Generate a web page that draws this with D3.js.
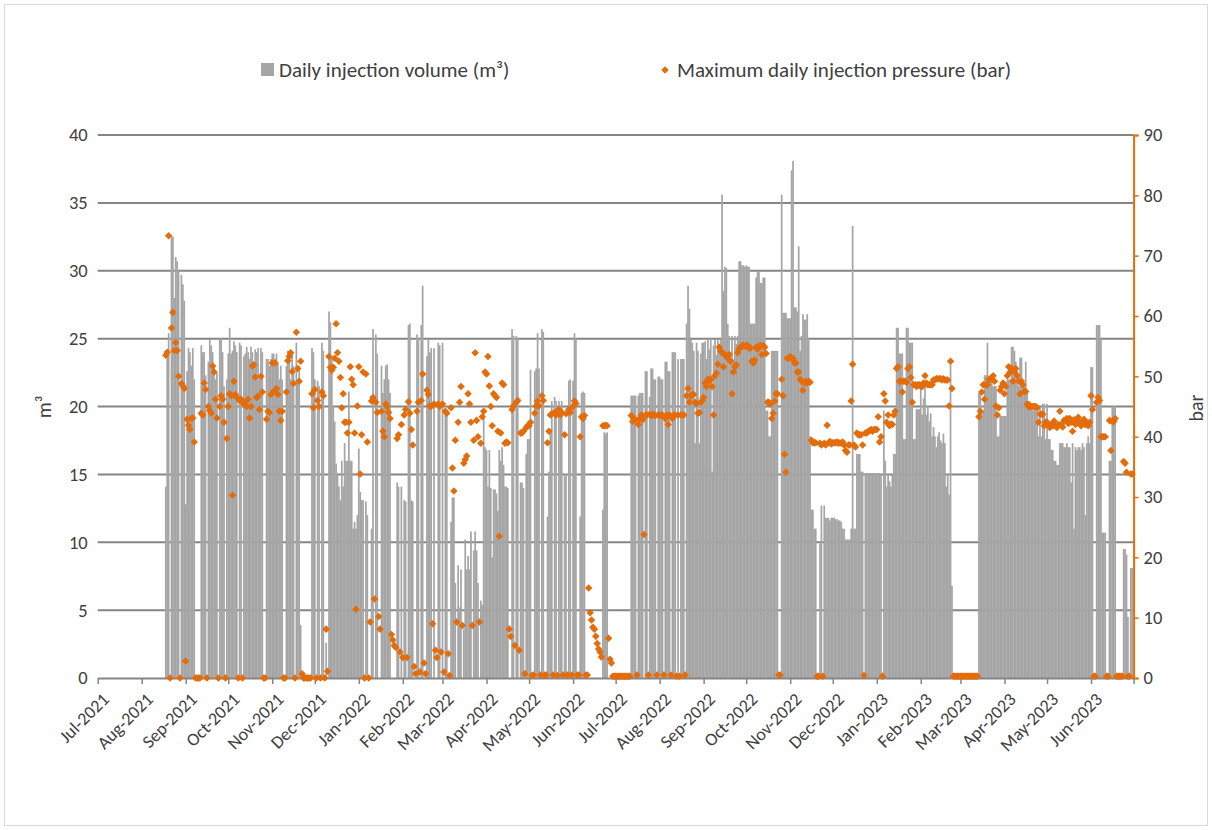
<!DOCTYPE html>
<html><head><meta charset="utf-8">
<script src="https://cdn.jsdelivr.net/npm/d3@7"></script>
<style>
body{margin:0;background:#fff}
text{font-family:Carlito,Calibri,Lato,"Liberation Sans",sans-serif;fill:#404040}
</style>
</head><body>
<svg id="chart" width="1212" height="830"></svg>
<script>
// ---- daily injection volume (m³) and maximum daily injection pressure (bar), one array per month ----
const v2108=[14.1,24.0,25.4,0,32.6,32.5,28.0,31.0,30.7,30.0,0,29.7,29.0,27.8];
const p2108=[53.5,54.0,73.3,0,58.0,60.6,54.3,55.6,54.3,50.0,0,48.8,48.4,48.0];
const v2109=[12.8,22.6,24.3,24.0,23.0,24.3,22.0,0,0,0,0,24.5,24.0,24.0,22.3,0,23.3,24.9,24.5,24.0,23.0,22.0,22.5,0,25.0,25.0,24.0,21.5,0,22.0];
const p2109=[2.8,42.9,41.9,41.2,43.0,43.1,39.1,0,0,0,0,43.9,43.6,48.9,47.8,0,45.0,44.3,43.9,51.7,50.7,46.2,43.1,0,45.0,46.8,46.2,42.4,0,39.7];
const v2110=[23.9,25.8,23.9,24.1,24.8,24.5,24.0,0,24.7,24.5,0,23.7,23.9,24.4,24.0,23.5,24.4,24.0,23.0,24.2,24.0,24.3,22.0,24.3,24.0,0,0,23.5,23.5,23.0,23.5];
const p2110=[45.0,47.1,46.8,30.3,49.2,47.0,46.5,0,46.0,46.2,0,45.4,45.8,45.0,46.2,43.1,45.0,51.7,51.9,49.9,46.5,46.7,44.5,50.0,47.4,0,0,42.9,44.2,44.0,47.0];
const v2111=[23.9,23.9,23.5,23.9,23.2,22.0,23.0,22.0,0,0,23.0,24.1,23.5,22.0,24.0,23.0,0,24.7,22.0,23.0,3.9,0,0,0,0,0,0,0,24.3,24.0];
const p2111=[52.2,47.5,52.2,48.0,47.0,44.2,42.7,44.2,0,0,47.4,52.6,53.3,53.9,50.8,48.8,0,57.3,51.3,49.2,52.5,0.7,0,0,0,0,0,0,47.1,44.8];
const v2112=[22.0,0,21.9,21.5,0,24.7,24.1,0,2.6,0,27.0,26.2,23.6,20.0,18.9,15.8,14.9,14.1,13.1,16.0,14.1,17.3,16.0,16.0,21.1,16.0,16.0,11.0,11.5,11.0,12.0];
const p2112=[47.8,0,46.0,45.0,0,47.4,46.8,0,8.1,1.1,53.3,51.5,51.0,51.5,53.0,58.7,53.9,52.5,49.8,44.8,47.1,42.4,42.4,40.6,42.4,51.6,49.5,48.6,40.6,11.4,45.1];
const v2201=[16.9,13.7,13.1,13.1,0,13.0,12.0,0,0,11.0,25.7,0,25.3,23.9,0,0,23.0,21.0,22.0,23.0,23.1,22.0,21.0,0,0,0,0,14.4,14.1,0,14.1];
const p2201=[51.6,33.8,40.3,50.7,0,50.4,39.1,0,9.3,45.9,46.5,13.1,45.7,44.0,10.2,8.1,44.2,40.9,40.0,45.4,45.0,44.0,43.0,7.2,6.3,5.4,5.1,39.7,40.3,4.3,42.0];
const v2202=[0,13.1,13.0,0,26.0,26.1,13.1,13.0,0,0,25.3,25.0,0,26.0,28.9,0,0,23.7,24.9,24.0,24.3,0,24.3,0,0,24.7,24.5,0];
const p2202=[3.4,43.6,44.5,3.4,45.8,43.9,41.2,38.6,1.9,0.7,44.2,45.7,1.0,46.0,50.4,2.5,0.7,47.7,47.0,45.1,45.0,9.0,45.4,4.6,3.4,45.4,45.0,4.3];
const v2203=[24.7,0,19.7,19.7,0,0,11.5,13.3,13.3,7.0,0,8.3,5.2,8.0,0,3.6,10.2,8.0,9.0,8.0,10.8,0,9.4,10.8,9.4,7.0,0,5.7,5.4,19.4,17.0];
const p2203=[45.4,1.0,44.2,43.9,4.0,0.4,44.8,34.8,31.0,39.4,9.3,42.4,45.7,48.3,8.7,35.6,36.2,36.8,47.1,45.4,42.4,8.7,39.4,53.9,42.7,40.0,9.3,38.9,43.3,44.2,50.7];
const v2204=[16.8,14.1,16.8,14.0,8.9,13.9,13.9,13.6,12.3,16.8,16.0,17.0,15.7,14.1,14.1,14.0,0,0,25.7,25.2,0,25.2,25.0,0,14.4,14.4,14.0,0,16.5,17.6];
const p2204=[50.4,53.3,48.4,45.0,41.8,47.1,46.8,46.5,40.9,23.5,40.6,48.9,48.6,38.9,39.1,39.0,8.1,6.9,44.5,45.1,5.4,45.7,46.0,4.6,40.6,40.6,40.9,0.7,41.5,41.8];
const v2205=[17.6,22.7,0,0,22.6,22.8,25.4,22.8,0,25.7,25.5,0,0,11.9,15.2,18.2,20.4,0,20.7,20.4,0,20.4,20.0,20.4,0,14.9,15.0,0,21.9,22.0,0];
const p2205=[41.8,42.4,0.4,0.5,43.9,45.1,45.9,45.1,0.5,46.8,46.0,0.5,0.5,39.0,40.9,43.6,43.8,0.5,44.0,43.6,0.4,44.5,43.6,44.0,0.5,40.3,43.8,0.5,44.5,44.0,0.5];
const v2206=[21.9,25.4,25.0,0,0,11.9,21.0,21.1,21.0,0,0,0,0,0,0,0,0,0,0,0,0,12.4,18.1,18.0,18.1,0,0,0,0,0];
const p2206=[45.0,45.9,45.5,0.5,0.5,40.0,43.3,43.0,43.5,0.5,0.5,14.9,10.8,9.6,8.4,8.1,6.9,5.7,4.8,4.3,3.5,41.8,41.8,41.9,41.8,6.6,3.1,2.5,0.3,0.3];
const v2207=[0,0,0,0,0,0,0,0,0,0,0,20.8,20.8,20.8,20.8,0,20.8,21.0,21.0,21.0,0,22.6,22.6,0,20.7,22.8,22.8,22.0,22.0,0,22.2];
const p2207=[0.3,0.3,0.3,0.3,0.3,0.3,0.3,0.3,0.3,0.3,0.3,43.5,42.5,43.0,42.8,0.5,42.0,43.0,43.6,42.8,23.8,43.6,43.6,0.5,43.7,43.5,43.7,43.6,43.5,0.5,43.6];
const v2208=[22.2,22.0,22.0,0,23.3,23.3,22.6,22.6,0,24.0,24.0,24.0,0,23.5,0,23.5,23.5,23.5,0,26.1,28.9,27.2,24.9,24.7,24.1,17.3,24.7,24.1,17.3,23.9,24.7];
const p2208=[43.6,43.5,43.6,0.5,43.0,43.6,42.0,43.6,0.5,43.0,43.6,43.6,0.3,43.6,0.3,43.6,43.6,43.6,0.5,46.8,48.0,45.7,46.8,47.0,47.0,45.7,45.5,43.9,44.0,45.7,46.0];
const v2209=[24.7,24.8,23.5,25.0,24.2,25.0,15.2,24.5,24.9,23.8,24.9,24.2,24.9,35.6,28.5,30.3,30.2,26.1,25.2,24.0,25.2,23.5,25.2,24.6,25.2,30.7,30.7,30.4,30.4,30.3];
const p2209=[46.5,48.9,48.3,49.5,49.2,49.5,48.3,43.6,50.1,50.5,52.0,54.8,54.2,53.9,51.6,53.6,53.3,53.0,53.6,52.5,47.1,50.7,51.6,51.9,53.9,54.5,54.8,55.1,55.1,55.0];
const v2210=[30.4,30.3,30.3,26.1,26.1,26.1,26.1,29.5,29.9,29.9,29.1,29.1,29.5,29.5,19.7,19.7,17.8,17.8,24.1,24.1,24.1,24.1,24.1,0,0,35.6,26.9,26.9,26.9,26.5,26.5];
const p2210=[55.1,55.1,54.7,54.7,52.5,52.2,52.7,54.8,54.5,55.0,55.1,53.6,55.1,54.8,53.8,45.7,45.7,45.4,43.0,43.9,45.9,47.1,47.1,0.5,0.5,49.5,46.8,37.1,34.1,53.0,53.0];
const v2211=[26.5,37.4,38.1,27.3,27.3,27.0,31.8,24.1,25.2,26.8,26.4,26.4,26.8,25.0,17.8,12.4,12.4,11.0,11.0,0,0,9.9,12.7,0,12.7,11.8,11.8,11.8,11.6,11.8];
const p2211=[53.3,53.0,53.0,52.2,52.2,50.7,50.7,49.5,49.2,47.7,48.9,49.2,48.9,49.2,49.0,39.4,39.0,39.0,39.0,0.3,0.3,38.9,38.6,0.3,38.9,38.6,41.9,39.0,39.2,38.8];
const v2212=[11.8,11.8,11.7,11.7,11.6,11.6,11.5,11.0,11.0,10.2,10.2,10.2,10.2,11.0,33.3,11.0,11.0,16.5,16.5,16.5,15.2,15.2,0,15.1,15.1,15.1,15.1,15.1,15.1,15.1,15.1];
const p2212=[39.0,39.0,39.0,39.1,38.9,39.0,38.9,39.1,38.6,37.7,37.4,38.6,38.6,45.9,52.0,38.6,38.3,40.6,40.3,40.3,40.3,38.6,0.4,40.6,40.6,40.9,41.0,41.2,40.9,41.2,41.2];
const v2301=[15.1,15.1,15.1,15.0,0,19.7,16.0,14.1,15.0,14.5,14.1,15.0,16.5,16.5,25.8,25.8,23.9,23.9,23.9,17.6,17.6,25.8,25.8,24.7,24.7,24.7,17.6,17.6,19.8,19.8,19.8];
const p2301=[41.2,43.3,39.1,40.0,0.3,47.1,45.9,42.4,43.6,41.8,42.1,42.0,43.6,44.2,51.3,51.6,49.2,49.2,47.4,49.2,49.2,49.0,51.3,51.6,49.8,45.7,48.6,48.6,48.3,48.6,48.6];
const v2302=[21.5,19.4,20.6,21.8,19.4,20.0,18.9,19.5,17.8,18.5,17.8,17.0,17.8,18.1,17.5,17.3,18.0,17.3,14.1,15.0,13.5,23.1,6.8,0,0,0,0,0];
const p2302=[48.3,48.3,48.9,50.1,48.9,48.6,48.6,48.6,48.6,49.4,49.4,49.6,49.6,49.6,49.6,49.4,49.6,49.4,49.4,49.4,45.1,52.5,48.0,0.3,0.3,0.3,0.3,0.3];
const v2303=[0,0,0,0,0,0,0,0,0,0,0,0,0,21.0,21.0,19.7,19.7,22.3,22.3,24.7,22.2,22.2,22.2,21.5,21.5,21.5,17.8,17.8,19.3,19.3,19.3];
const p2303=[0.3,0.3,0.3,0.3,0.3,0.3,0.3,0.3,0.3,0.3,0.3,0.3,0.3,43.3,44.2,47.4,48.6,46.2,48.6,48.6,49.5,49.6,49.6,50.1,49.2,45.1,43.6,44.8,47.7,48.3,48.9];
const v2304=[19.3,19.3,22.0,22.0,22.0,24.4,24.4,24.1,23.3,22.6,21.5,23.6,23.6,21.5,21.5,23.3,21.0,20.4,20.4,20.2,19.7,20.2,19.7,19.9,17.8,19.9,17.8,20.2,20.2,17.6];
const p2304=[47.1,48.3,50.1,51.6,50.7,51.3,49.2,50.7,51.3,50.1,49.2,47.1,49.2,48.6,47.5,47.5,45.4,45.0,45.0,45.0,45.0,45.0,45.0,44.8,42.4,43.7,43.7,43.7,41.8,42.4];
const v2305=[20.2,17.6,17.6,16.8,16.8,16.0,16.0,15.7,15.7,17.3,17.3,17.3,17.0,17.0,17.3,17.0,17.0,14.4,17.3,11.0,17.0,16.8,17.0,17.0,16.8,17.3,17.0,12.0,17.3,17.8,17.3];
const p2305=[42.4,42.0,41.5,42.0,41.8,42.6,41.8,41.5,42.0,44.2,42.0,41.6,42.7,42.7,43.0,42.2,43.0,42.4,40.9,42.8,42.0,42.8,43.2,42.4,41.8,42.4,42.9,42.0,42.4,41.8,42.4];
const v2306=[22.9,22.9,0,0,26.0,26.0,26.0,24.9,10.7,10.7,10.7,0,0,16.0,16.0,20.0,20.0,20.0,0,0,0,0,0,9.5,9.5,9.1,4.5,0,8.1,8.1];
const p2306=[46.8,44.5,0.3,0.3,45.7,46.5,46.0,40.0,40.0,40.0,40.0,0.3,0.3,42.7,37.7,42.5,42.5,43.0,0.3,0.3,0.3,0.3,0.3,35.9,35.6,34.1,0.3,0.3,33.8,33.8];

// month table: [year, monthIndex, first day, volumes, pressures]
const monthTable=[
 [2021,7,18,v2108,p2108],[2021,8,1,v2109,p2109],[2021,9,1,v2110,p2110],[2021,10,1,v2111,p2111],[2021,11,1,v2112,p2112],
 [2022,0,1,v2201,p2201],[2022,1,1,v2202,p2202],[2022,2,1,v2203,p2203],[2022,3,1,v2204,p2204],[2022,4,1,v2205,p2205],
 [2022,5,1,v2206,p2206],[2022,6,1,v2207,p2207],[2022,7,1,v2208,p2208],[2022,8,1,v2209,p2209],[2022,9,1,v2210,p2210],
 [2022,10,1,v2211,p2211],[2022,11,1,v2212,p2212],[2023,0,1,v2301,p2301],[2023,1,1,v2302,p2302],[2023,2,1,v2303,p2303],
 [2023,3,1,v2304,p2304],[2023,4,1,v2305,p2305],[2023,5,1,v2306,p2306]
];
const leftTicks=[0,5,10,15,20,25,30,35,40];
const rightTicks=[0,10,20,30,40,50,60,70,80,90];
const legendLabels=["Daily injection volume (m³)","Maximum daily injection pressure (bar)"];
const axisTitles=["m³","bar"];

(function(){
const rows=[];
monthTable.forEach(([y,m,d0,vs,ps])=>{
  vs.forEach((v,i)=>rows.push({date:new Date(Date.UTC(y,m,d0+i)),vol:v,pres:ps[i]}));
});

const svg=d3.select("#chart");
const W=1212,H=830;
const pL=97.7,pR=1133.6,pT=135,pB=678;
const GRAY="#A5A5A5",ORANGE="#E46C0A",GRID="#858585";

svg.append("rect").attr("x",4.5).attr("y",4.5).attr("width",W-9).attr("height",H-9)
  .attr("fill","#fff").attr("stroke","#D9D9D9");

const x=d3.scaleUtc().domain([new Date(Date.UTC(2021,6,1)),new Date(Date.UTC(2023,6,1))]).range([pL,pR]);
const yL=d3.scaleLinear().domain([0,40]).range([pB,pT]);
const yR=d3.scaleLinear().domain([0,90]).range([pB,pT]);

// gridlines
svg.append("g").selectAll("line").data(leftTicks.filter(t=>t>0)).join("line")
  .attr("x1",pL).attr("x2",pR).attr("y1",d=>yL(d)).attr("y2",d=>yL(d))
  .attr("stroke",GRID).attr("stroke-width",2);

// bars
const dayW=x(new Date(Date.UTC(2022,0,2)))-x(new Date(Date.UTC(2022,0,1)));
svg.append("g").selectAll("rect").data(rows.filter(r=>r.vol>0)).join("rect")
  .attr("x",d=>x(d.date)-dayW/2-0.15).attr("width",dayW+0.3)
  .attr("y",d=>yL(d.vol)).attr("height",d=>yL(0)-yL(d.vol))
  .attr("fill",GRAY);

// x axis
const monthTicks=d3.utcMonth.range(new Date(Date.UTC(2021,6,1)),new Date(Date.UTC(2023,6,2)));
const fmt=d3.utcFormat("%b-%Y");
const xAxis=svg.append("g").attr("transform",`translate(0,${pB})`)
  .call(d3.axisBottom(x).tickValues(monthTicks).tickSize(6).tickSizeOuter(0).tickFormat(""));
xAxis.select(".domain").attr("stroke",GRID).attr("stroke-width",2);
xAxis.selectAll(".tick line").attr("stroke",GRID).attr("stroke-width",1.5);
svg.append("g").selectAll("text").data(monthTicks.slice(0,-1)).join("text")
  .attr("transform",d=>`translate(${x(d)+8},${pB+18}) rotate(-45)`)
  .attr("text-anchor","end").attr("dy","0.35em").attr("font-size",18)
  .text(d=>fmt(d));

// left axis labels
const yAxisL=svg.append("g").attr("transform",`translate(${pL},0)`)
  .call(d3.axisLeft(yL).tickValues(leftTicks).tickSize(0).tickPadding(10));
yAxisL.select(".domain").remove();
yAxisL.selectAll("text").attr("font-size",18.5).attr("font-family",null).attr("fill","#404040");

// right axis
const yAxisR=svg.append("g").attr("transform",`translate(${pR},0)`)
  .call(d3.axisRight(yR).tickValues(rightTicks).tickSize(5).tickPadding(5));
yAxisR.select(".domain").attr("stroke",ORANGE).attr("stroke-width",2);
yAxisR.selectAll(".tick line").attr("stroke",ORANGE).attr("stroke-width",1.5);
yAxisR.selectAll("text").attr("font-size",18.5).attr("font-family",null).attr("fill","#404040");

// pressure markers
const diamond=d3.symbol().type(d3.symbolDiamond2).size(36);
svg.append("g").selectAll("path").data(rows.filter(r=>r.pres!=null)).join("path")
  .attr("transform",d=>`translate(${x(d.date)},${yR(d.pres)})`)
  .attr("d",diamond).attr("fill",ORANGE);

// axis titles
svg.append("text").attr("transform","translate(44,407) rotate(-90)").attr("text-anchor","middle")
  .attr("dy","0.35em").attr("font-size",20).text(axisTitles[0]);
svg.append("text").attr("transform","translate(1196,408) rotate(-90)").attr("text-anchor","middle")
  .attr("dy","0.35em").attr("font-size",20).text(axisTitles[1]);

// legend
const lg=svg.append("g");
lg.append("rect").attr("x",261).attr("y",63).attr("width",13).attr("height",13).attr("fill",GRAY);
lg.append("text").attr("x",279).attr("y",70).attr("dy","0.35em").attr("font-size",21).text(legendLabels[0]);
lg.append("path").attr("transform","translate(665,70)").attr("d",diamond).attr("fill",ORANGE);
lg.append("text").attr("x",677).attr("y",70).attr("dy","0.35em").attr("font-size",21).text(legendLabels[1]);
})();
</script>
</body></html>
